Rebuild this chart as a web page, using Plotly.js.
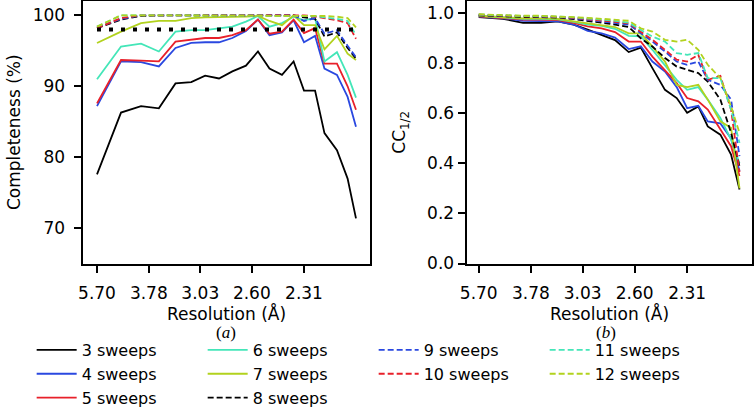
<!DOCTYPE html>
<html><head><meta charset="utf-8">
<script src="https://cdn.plot.ly/plotly-3.0.1.min.js"></script>
<style>html,body{margin:0;padding:0;background:#fff}#chart{width:754px;height:420px}</style>
</head><body><div id="chart"></div>
<script>
// Resolution shells (Å) – x positions of all points
const resolution = [5.70, 4.52, 3.95, 3.59, 3.33, 3.13, 2.98, 2.85, 2.74, 2.64, 2.56, 2.49, 2.42, 2.36, 2.31, 2.26, 2.22, 2.17, 2.13, 2.10];
const tickLabels = ['5.70', '3.78', '3.03', '2.60', '2.31'];
const seriesNames = ['3 sweeps','4 sweeps','5 sweeps','6 sweeps','7 sweeps','8 sweeps','9 sweeps','10 sweeps','11 sweeps','12 sweeps'];
const completenessTarget = 98;

// (a) Completeness (%)
const comp3  = [77.6,86.3,87.2,86.9,90.4,90.6,91.5,91.1,92.1,92.9,94.9,92.5,91.6,93.5,89.4,89.4,83.4,81.0,77.0,71.4];
const comp4  = [87.2,93.5,93.4,92.8,95.4,96.1,96.2,96.2,96.8,97.8,99.4,97.2,97.6,99.3,96.2,97.1,92.5,91.6,88.5,84.3];
const comp5  = [87.6,93.7,93.6,93.5,96.3,96.6,96.8,96.8,97.2,97.9,99.4,97.4,97.7,99.4,97.5,98.2,93.2,93.2,90.0,86.7];
const comp6  = [91.0,95.6,96.0,94.9,97.7,97.9,97.9,98.2,98.4,99.1,99.9,98.4,98.9,99.8,99.3,99.6,93.5,94.8,91.6,88.4];
const comp7  = [96.1,97.7,98.9,99.2,99.2,99.6,99.7,99.7,99.7,99.8,99.9,99.2,98.6,100.0,98.6,98.6,95.2,97.1,94.6,93.7];
const comp8  = [98.2,99.4,99.9,100,100,100,100,100,100,100,100,100,100,100,99.7,99.5,97.0,97.6,95.4,93.9];
const comp9  = [98.3,99.5,100,100,100,100,100,100,100,100,100,100,100,100,99.2,99.6,97.4,97.9,95.7,94.1];
const comp10 = [98.2,99.6,100,100,100,100,100,100,100,100,100,100,100,100,100,99.8,99.6,99.3,98.9,96.7];
const comp11 = [98.4,100,100,100,100,100,100,100,100,100,100,100,100,100,100,99.9,99.7,99.5,99.2,97.2];
const comp12 = [98.4,100,100,100,100,100,100,100,100,100,100,100,100,100,100,100,99.9,99.8,99.6,98.3];

// (b) CC1/2
const cc3  = [0.985,0.978,0.962,0.962,0.968,0.955,0.935,0.915,0.893,0.845,0.863,0.781,0.694,0.661,0.602,0.628,0.548,0.515,0.435,0.296];
const cc4  = [0.987,0.980,0.970,0.968,0.968,0.955,0.930,0.920,0.903,0.857,0.868,0.807,0.767,0.705,0.621,0.630,0.568,0.560,0.500,0.370];
const cc5  = [0.988,0.982,0.975,0.975,0.973,0.962,0.948,0.940,0.925,0.887,0.887,0.827,0.774,0.721,0.661,0.648,0.615,0.535,0.469,0.350];
const cc6  = [0.990,0.985,0.978,0.978,0.976,0.966,0.955,0.950,0.938,0.910,0.908,0.854,0.794,0.734,0.694,0.705,0.655,0.582,0.495,0.400];
const cc7  = [0.990,0.985,0.980,0.980,0.978,0.968,0.960,0.955,0.945,0.920,0.920,0.867,0.807,0.714,0.705,0.714,0.655,0.568,0.542,0.300];
const cc8  = [0.992,0.988,0.985,0.985,0.983,0.977,0.970,0.963,0.955,0.945,0.900,0.867,0.821,0.787,0.774,0.761,0.727,0.655,0.522,0.389];
const cc9  = [0.993,0.990,0.987,0.987,0.985,0.980,0.973,0.968,0.962,0.955,0.920,0.887,0.847,0.807,0.794,0.807,0.734,0.714,0.655,0.429];
const cc10 = [0.994,0.990,0.988,0.988,0.986,0.982,0.976,0.972,0.966,0.960,0.927,0.894,0.854,0.815,0.807,0.834,0.734,0.750,0.615,0.365];
const cc11 = [0.995,0.991,0.989,0.989,0.987,0.984,0.979,0.975,0.970,0.962,0.934,0.907,0.887,0.841,0.834,0.841,0.741,0.741,0.615,0.482];
const cc12 = [0.996,0.992,0.990,0.990,0.988,0.986,0.982,0.978,0.975,0.970,0.940,0.927,0.894,0.887,0.894,0.854,0.794,0.741,0.628,0.522];

const compSeries = [comp3,comp4,comp5,comp6,comp7,comp8,comp9,comp10,comp11,comp12];
const ccSeries = [cc3,cc4,cc5,cc6,cc7,cc8,cc9,cc10,cc11,cc12];
const colors = ['#000000','#2a48e0','#e8202a','#44e6b8','#b2d21e','#000000','#2a48e0','#e8202a','#44e6b8','#b2d21e'];
const dashes = ['solid','solid','solid','solid','solid','6px,3px','6px,3px','6px,3px','6px,3px','6px,3px'];
const legendOrder = [0,3,6,8,1,4,7,9,2,5];

const invSq = d => 1 / (d * d);
const xs = resolution.map(invSq);
const tickVals = tickLabels.map(t => invSq(parseFloat(t)));

const traces = [];
seriesNames.forEach((name, i) => {
  traces.push({x: xs, y: compSeries[i], xaxis:'x', yaxis:'y', type:'scatter', mode:'lines', name: name,
    legendgroup: name, legendrank: legendOrder.indexOf(i) + 1,
    line: {color: colors[i], width: 1.8, dash: dashes[i]}});
});
seriesNames.forEach((name, i) => {
  traces.push({x: xs, y: ccSeries[i], xaxis:'x2', yaxis:'y2', type:'scatter', mode:'lines', name: name,
    legendgroup: name, showlegend: false,
    line: {color: colors[i], width: 1.8, dash: dashes[i]}});
});
traces.push({x: [xs[0], xs[xs.length-1]], y: [completenessTarget, completenessTarget], xaxis:'x', yaxis:'y',
  type:'scatter', mode:'lines', showlegend:false, line:{color:'#000', width:4, dash:'4px,8px'}});

const font = {family: 'DejaVu Sans, sans-serif', size: 17, color: '#000'};
const legendFont = {family: 'DejaVu Sans, sans-serif', size: 16, color: '#000'};
const axBase = {showline:true, mirror:true, linecolor:'#000', linewidth:2.5, ticks:'outside', ticklen:7, tickwidth:2,
  tickcolor:'#000', showgrid:false, zeroline:false, tickfont: font, automargin:false};

const layout = {
  width: 754, height: 420, margin: {l:0, r:0, t:0, b:0, autoexpand:false}, paper_bgcolor:'#fff', plot_bgcolor:'#fff',
  font: font, showlegend: true,
  xaxis: Object.assign({}, axBase, {domain:[0.1101, 0.4907], range:[0.02019, 0.23735], tickmode:'array', tickvals: tickVals, ticktext: tickLabels,
    ticklabelstandoff: 6, title:{text:'Resolution (Å)', font: font, standoff: 6}, anchor:'y'}),
  yaxis: Object.assign({}, axBase, {domain:[0.3726, 0.9976], range:[65.04, 102.01], tickvals:[70,80,90,100],
    ticklabelstandoff: 5, title:{text:'Completeness (%)', font: font, standoff: 8}, anchor:'x'}),
  xaxis2: Object.assign({}, axBase, {domain:[0.6194, 0.9973], range:[0.02197, 0.23612], tickmode:'array', tickvals: tickVals, ticktext: tickLabels,
    ticklabelstandoff: 6, title:{text:'Resolution (Å)', font: font, standoff: 6}, anchor:'y2'}),
  yaxis2: Object.assign({}, axBase, {domain:[0.3726, 0.9976], range:[0, 1.049], tickvals:[0,0.2,0.4,0.6,0.8,1.0], tickformat:'.1f',
    title:{text:'CC<sub>1/2</sub>', font: font, standoff: 17}, anchor:'x2'}),
  legend: {orientation:'h', x: 0.042, xanchor:'left', y: 0.207, yanchor:'top', entrywidth: 116, entrywidthmode:'pixels',
    font: legendFont, bgcolor:'rgba(0,0,0,0)', itemwidth: 40, traceorder:'normal'},
  annotations: [
    {text:'(<i>a</i>)', xref:'paper', yref:'paper', x: 226/754, y: (420-332)/420, showarrow:false,
      font:{family:'Liberation Serif, serif', size:17, color:'#000'}, xanchor:'center', yanchor:'middle'},
    {text:'(<i>b</i>)', xref:'paper', yref:'paper', x: 606/754, y: (420-332)/420, showarrow:false,
      font:{family:'Liberation Serif, serif', size:17, color:'#000'}, xanchor:'center', yanchor:'middle'}
  ]
};

Plotly.newPlot('chart', traces, layout, {staticPlot:true, displayModeBar:false});
</script></body></html>
